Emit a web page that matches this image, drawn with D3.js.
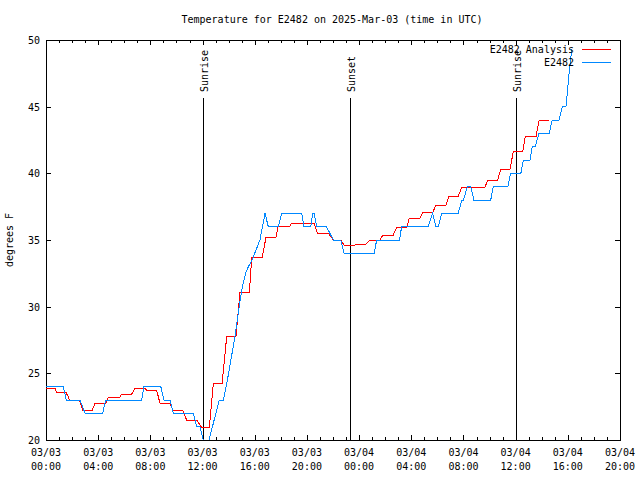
<!DOCTYPE html>
<html><head><meta charset="utf-8">
<script src="https://cdn.jsdelivr.net/npm/d3@7"></script>
<style>
body{margin:0;background:#fff}
text{font-family:"DejaVu Sans Mono","Liberation Mono",monospace;font-size:10px;fill:#000}
</style>
</head><body>
<svg id="c" width="640" height="480"></svg>
<script>
const title = "Temperature for E2482 on 2025-Mar-03 (time in UTC)";
const yLabel = "degrees F";
const seriesNames = ["E2482 Analysis", "E2482"];
const seriesColors = ["#ff0000", "#0088ff"];
const xTickHours = [0, 4, 8, 12, 16, 20, 24, 28, 32, 36, 40, 44];
const xTickDates = ["03/03","03/03","03/03","03/03","03/03","03/03","03/04","03/04","03/04","03/04","03/04","03/04"];
const xTickTimes = ["00:00","04:00","08:00","12:00","16:00","20:00","00:00","04:00","08:00","12:00","16:00","20:00"];
const yTicks = [20, 25, 30, 35, 40, 45, 50];
const sunLabels = ["Sunrise", "Sunset", "Sunrise"];
const sunHours = [12.05, 23.3, 36.03];

// E2482 Analysis (hours since 03/03 00:00 UTC, degrees F)
const analysisHours = [0,0.7,0.8,1.53,1.7,1.78,2.56,2.65,2.8,3.55,3.76,4.57,4.78,5.67,5.8,6.57,6.82,7.59,7.75,8.49,8.74,9.5,9.76,10.5,10.78,11.55,11.93,12.52,12.83,13.5,13.85,14.56,14.87,15.59,15.77,16.58,16.86,17.63,17.8,18.7,18.82,20.57,20.8,21.64,22.03,22.6,22.85,23.7,23.78,24.53,24.83,25.6,25.8,26.6,26.88,27.65,27.85,28.67,28.88,29.64,29.9,30.66,30.89,31.6,31.87,33.65,33.83,34.6,34.86,35.57,35.82,36.54,36.74,37.56,37.8,38.58];
const analysisValues = [23.875,23.875,23.57,23.57,23.25,23.0,23.0,22.75,22.25,22.25,22.75,22.75,23.2,23.2,23.45,23.45,23.875,23.875,23.7,23.7,22.75,22.75,22.2,22.2,21.5,21.5,20.95,20.95,24.25,24.25,27.75,27.75,31.08,31.08,33.7,33.7,35.2,35.2,36.05,36.05,36.25,36.25,35.5,35.5,35.0,35.0,34.625,34.625,34.7,34.7,35.0,35.0,35.33,35.33,35.95,35.95,36.625,36.625,37.05,37.05,37.625,37.625,38.3,38.3,38.95,38.95,39.43,39.43,40.3,40.3,41.63,41.63,42.75,42.75,44.0,44.0];

// E2482 observations
const obsHours = [0,1.33,1.55,2.6,3.0,4.35,4.57,7.33,7.5,8.8,9.05,9.5,9.76,11.3,11.55,11.8,12.05,12.5,13.28,13.6,14.0,14.48,15.0,15.3,15.51,15.8,16.0,16.4,16.79,17.04,17.8,18.07,19.6,19.78,20.3,20.44,20.55,20.75,21.5,22.03,22.6,22.85,25.15,25.35,27.1,27.26,29.3,29.64,29.9,30.08,30.33,31.6,31.87,32.0,32.3,32.55,32.8,34.09,34.29,35.4,35.62,36.4,36.6,37.1,37.28,37.5,37.79,38.58,38.8,39.33,39.58,39.86,40.1,40.3];
const obsValues = [24,24,23,23,22,22,23,23,24,24,23,23,22,22,21,21,20,20,23,23,25,27.75,31.25,32.5,33,33.5,34,35,37,36,36,37,37,36,36,37,37,36,36,35,35,34,34,35,35,36,36,37,36,36,37,37,38,38,39,39,38,38,39,39,40,40,41,41,42,42,43,43,44,44,45,45,47.5,49.3];

const svg = d3.select("#c");
const L = 46, R = 620, T = 40, B = 440;
const x = d3.scaleLinear().domain([0, 44]).range([L, R]);
const y = d3.scaleLinear().domain([20, 50]).range([B, T]);

svg.append("rect").attr("width",640).attr("height",480).attr("fill","#fff");

// title
svg.append("text").attr("x", 332).attr("y", 23).attr("text-anchor","middle").text(title);

// y label
svg.append("text").attr("transform","translate(13,240) rotate(-90)").attr("text-anchor","middle").text(yLabel);

const g = svg.append("g").attr("shape-rendering","crispEdges");
// ticks x (bottom & top, inward)
const minorHours = d3.range(0, 45, 1);
minorHours.forEach(h => {
  const major = h % 4 === 0;
  const len = major ? 5 : 3;
  const px = Math.round(x(h)) + 0.5;
  g.append("line").attr("x1",px).attr("x2",px).attr("y1",B).attr("y2",B-len).attr("stroke","#000");
  g.append("line").attr("x1",px).attr("x2",px).attr("y1",T).attr("y2",T+len).attr("stroke","#000");
});
// ticks y (left & right)
yTicks.forEach(v => {
  const py = Math.round(y(v)) + 0.5;
  g.append("line").attr("x1",L).attr("x2",L+5).attr("y1",py).attr("y2",py).attr("stroke","#000");
  g.append("line").attr("x1",R).attr("x2",R-5).attr("y1",py).attr("y2",py).attr("stroke","#000");
  svg.append("text").attr("x", L-6).attr("y", y(v)+4).attr("text-anchor","end").text(v);
});
xTickHours.forEach((h,i) => {
  svg.append("text").attr("x", x(h)).attr("y", 456).attr("text-anchor","middle").text(xTickDates[i]);
  svg.append("text").attr("x", x(h)).attr("y", 470).attr("text-anchor","middle").text(xTickTimes[i]);
});

// sun events
sunHours.forEach((h,i) => {
  const px = Math.round(x(h)) + 0.5;
  g.append("line").attr("x1",px).attr("x2",px).attr("y1",98).attr("y2",B).attr("stroke","#000");
  svg.append("text").attr("transform",`translate(${px+4},92) rotate(-90)`).attr("text-anchor","start").text(sunLabels[i]);
});

// clip
svg.append("clipPath").attr("id","clip").append("rect").attr("x",L).attr("y",T).attr("width",R-L).attr("height",B-T);

const line = d3.line().x(d => x(d[0])).y(d => y(d[1]));
const analysis = analysisHours.map((h,i) => [h, analysisValues[i]]);
const obs = obsHours.map((h,i) => [h, obsValues[i]]);
svg.append("path").datum(analysis).attr("d", line).attr("fill","none").attr("stroke",seriesColors[0]).attr("stroke-width",1).attr("shape-rendering","crispEdges").attr("clip-path","url(#clip)");
svg.append("path").datum(obs).attr("d", line).attr("fill","none").attr("stroke",seriesColors[1]).attr("stroke-width",1).attr("shape-rendering","crispEdges").attr("clip-path","url(#clip)");

// legend
seriesNames.forEach((n,i) => {
  const ly = 49 + i*13;
  svg.append("text").attr("x", 574).attr("y", ly+4).attr("text-anchor","end").text(n);
  g.append("line").attr("x1",582).attr("x2",611).attr("y1",ly+0.5).attr("y2",ly+0.5).attr("stroke",seriesColors[i]);
});

// border
g.append("rect").attr("x",L+0.5).attr("y",T+0.5).attr("width",R-L).attr("height",B-T).attr("fill","none").attr("stroke","#000");
</script>
</body></html>
